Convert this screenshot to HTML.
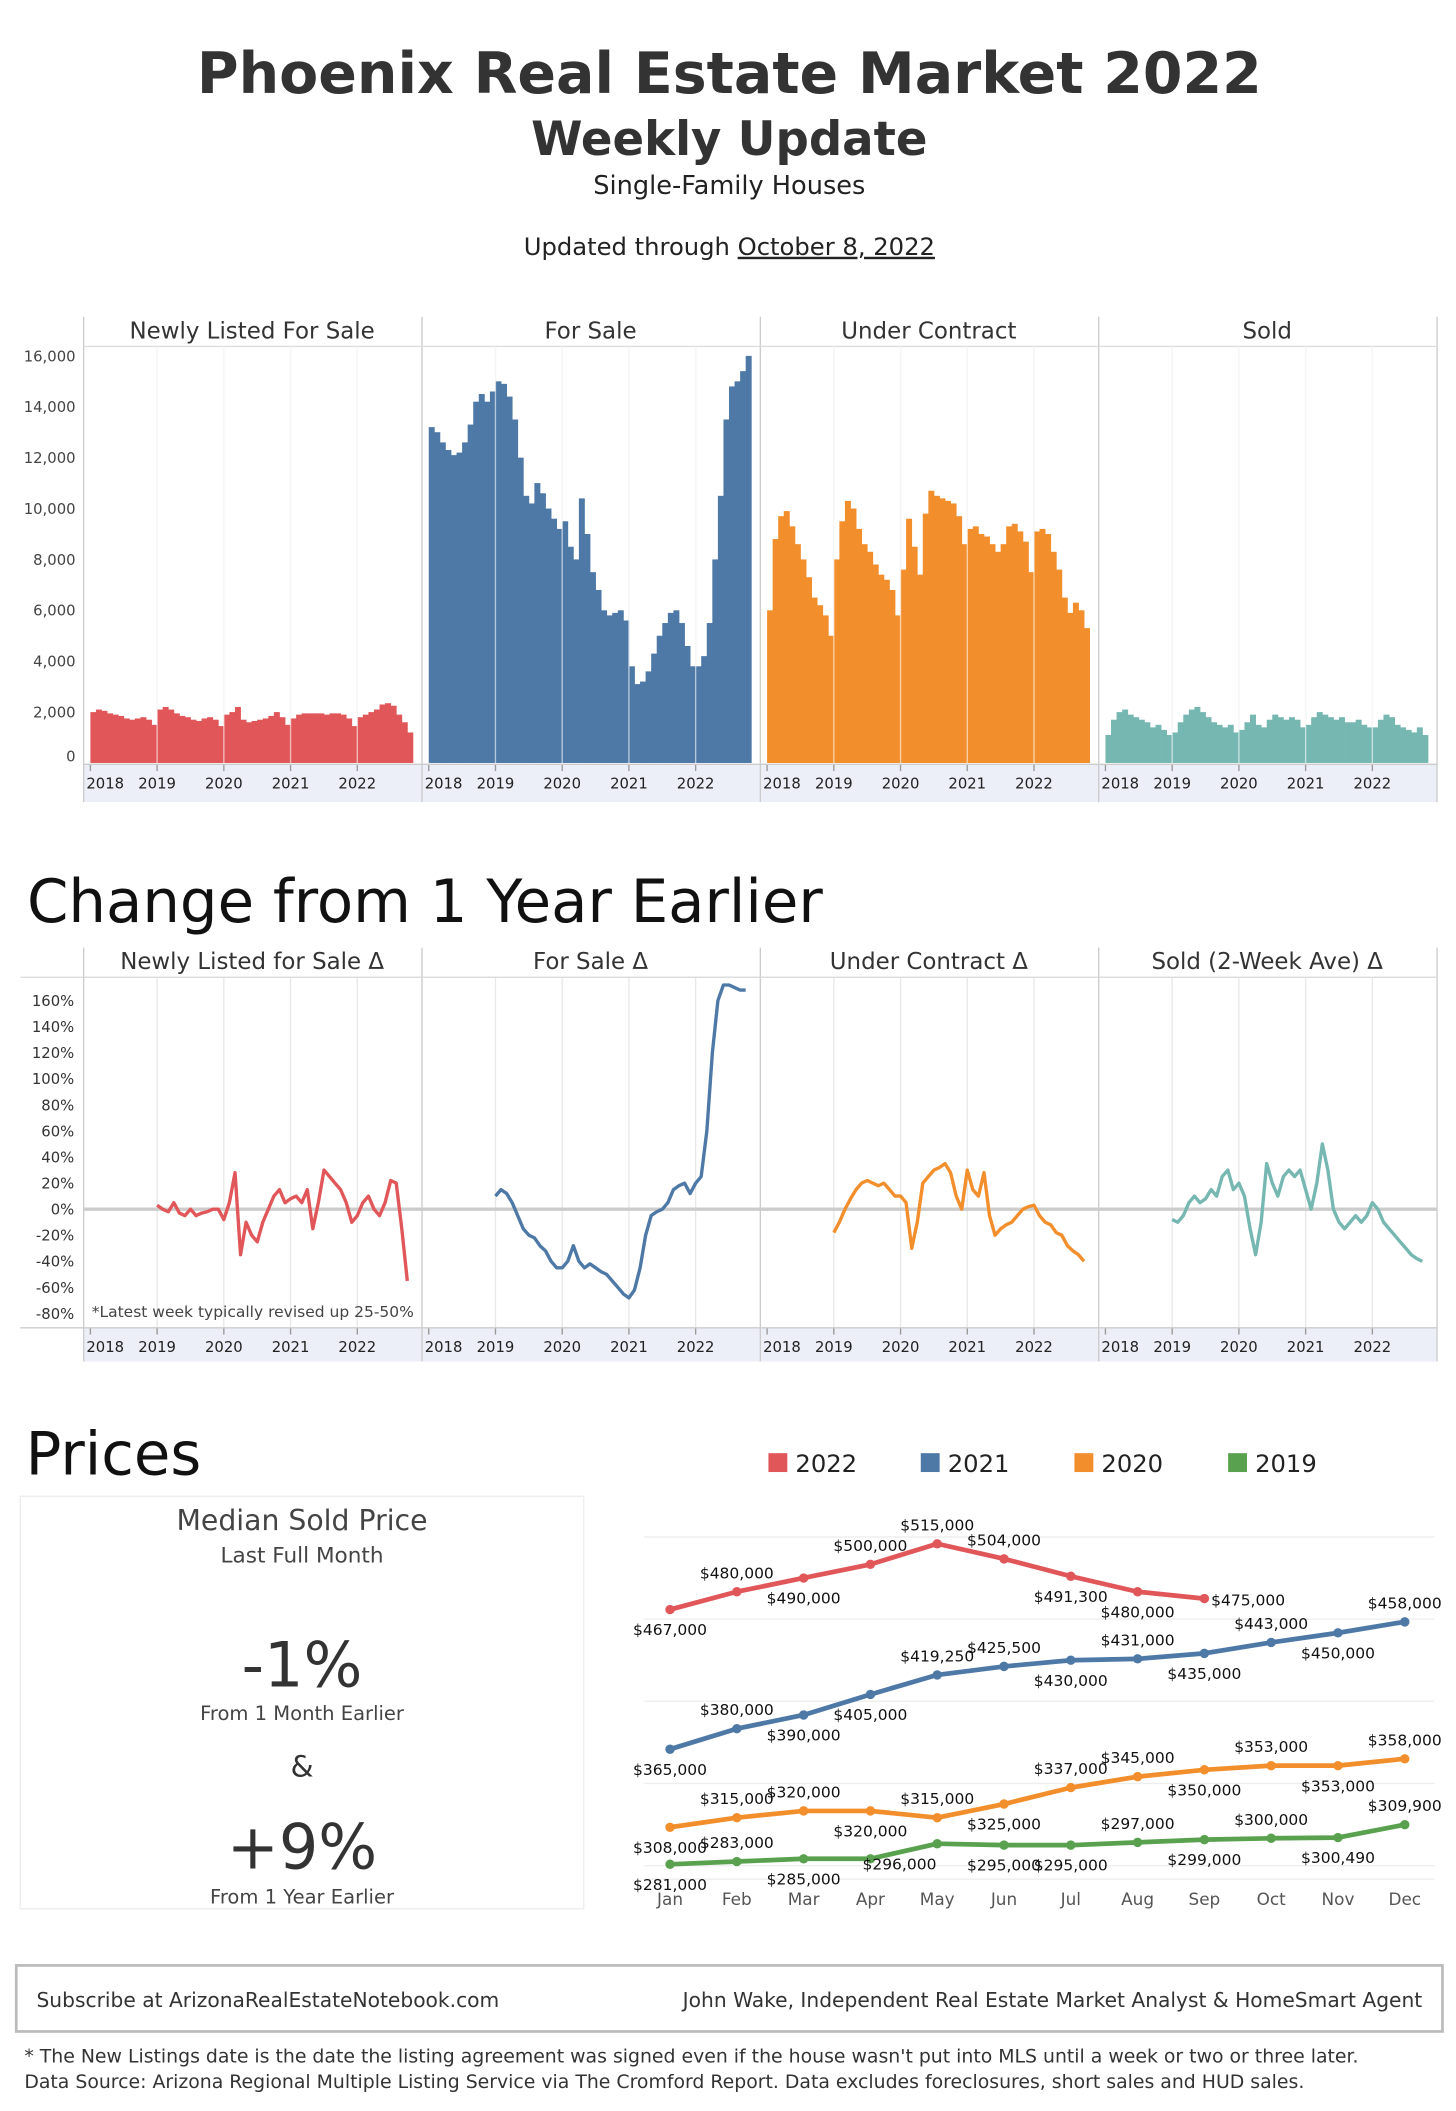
<!DOCTYPE html>
<html><head><meta charset="utf-8">
<style>
html,body{margin:0;padding:0;background:#fff;width:1456px;height:2111px;overflow:hidden}
svg{display:block}
text{font-family:"DejaVu Sans","Liberation Sans",sans-serif}
</style></head>
<body>
<svg id="page" width="1456" height="2111" viewBox="0 0 1080 1566" xmlns="http://www.w3.org/2000/svg">
<g>
<text x="541" y="69" text-anchor="middle" font-size="42" font-weight="bold" fill="#333" textLength="790" lengthAdjust="spacingAndGlyphs">Phoenix Real Estate Market 2022</text>
<text x="541" y="115" text-anchor="middle" font-size="35" font-weight="bold" fill="#333" textLength="294" lengthAdjust="spacingAndGlyphs">Weekly Update</text>
<text x="541" y="144" text-anchor="middle" font-size="19" fill="#222">Single-Family Houses</text>
<text x="541" y="189" text-anchor="middle" font-size="18" fill="#222">Updated through <tspan text-decoration="underline">October 8, 2022</tspan></text>
</g>
<g id="topG"></g>
<text x="20" y="684" font-size="44" fill="#111">Change from 1 Year Earlier</text>
<g id="chg"></g>
<text x="19" y="1094" font-size="44" fill="#111">Prices</text>
<g>
<rect x="15" y="1110" width="418" height="306" fill="none" stroke="#eee"/>
<text x="224" y="1135" text-anchor="middle" font-size="21" fill="#444">Median Sold Price</text>
<text x="224" y="1159" text-anchor="middle" font-size="16" fill="#444">Last Full Month</text>
<text x="224" y="1251" text-anchor="middle" font-size="46" fill="#333">-1%</text>
<text x="224" y="1276" text-anchor="middle" font-size="14.5" fill="#444">From 1 Month Earlier</text>
<text x="224" y="1318" text-anchor="middle" font-size="22" fill="#333">&amp;</text>
<text x="224" y="1386" text-anchor="middle" font-size="46" fill="#333">+9%</text>
<text x="224" y="1412" text-anchor="middle" font-size="14.5" fill="#444">From 1 Year Earlier</text>
</g>
<g id="price"></g>
<g>
<rect x="12" y="1458" width="1058" height="49" fill="none" stroke="#bbb" stroke-width="2"/>
<text x="27" y="1489" font-size="15" fill="#333">Subscribe at ArizonaRealEstateNotebook.com</text>
<text x="1055" y="1489" text-anchor="end" font-size="15" fill="#333">John Wake, Independent Real Estate Market Analyst &amp; HomeSmart Agent</text>
<text x="18" y="1530" font-size="14" fill="#333">* The New Listings date is the date the listing agreement was signed even if the house wasn't put into MLS until a week or two or three later.</text>
<text x="18" y="1549" font-size="14" fill="#333">Data Source: Arizona Regional Multiple Listing Service via The Cromford Report. Data excludes foreclosures, short sales and HUD sales.</text>
</g>
</svg>
<script>
// ---- Inventory data (monthly, Jan 2018 - Oct 2022)
const newListed = [2000,2100,2050,1950,1900,1850,1750,1700,1750,1800,1700,1500, 2100,2200,2100,1950,1850,1800,1700,1650,1750,1800,1700,1450, 1900,2000,2200,1700,1600,1650,1700,1750,1850,2000,1800,1500, 1750,1900,1950,1950,1950,1950,1900,1950,1950,1900,1750,1450, 1800,1900,2000,2100,2300,2350,2250,1900,1600,1200];
const forSale = [13200,13000,12600,12300,12100,12200,12600,13300,14200,14500,14200,14600, 15000,14900,14400,13500,12000,10500,10200,11000,10600,10000,9600,9200, 9500,8500,8000,10400,9000,7500,6800,6000,5800,5900,6000,5600, 3800,3100,3200,3600,4300,5000,5500,5900,6000,5500,4600,3800, 3800,4200,5500,8000,10500,13500,14800,15000,15400,16000];
const underContract = [6000,8800,9700,9900,9300,8600,8000,7300,6500,6200,5800,5000, 8000,9500,10300,10000,9200,8600,8300,7800,7400,7200,6800,5800, 7600,9600,8500,7400,9800,10700,10500,10400,10300,10200,9700,8600, 9200,9300,9000,8900,8600,8300,8600,9300,9400,9100,8700,7500, 9100,9200,9000,8300,7600,6500,5900,6300,6000,5300];
const sold = [1100,1700,2000,2100,1900,1800,1700,1600,1400,1500,1300,1100, 1200,1600,1900,2100,2200,2000,1800,1600,1500,1400,1500,1200, 1300,1600,1900,1500,1400,1700,1900,1800,1700,1800,1700,1400, 1500,1800,2000,1900,1800,1700,1800,1600,1600,1700,1500,1400, 1400,1700,1900,1800,1500,1400,1300,1200,1400,1100];
const invTitles = ["Newly Listed For Sale","For Sale","Under Contract","Sold"];
const invTicks = [0,2000,4000,6000,8000,10000,12000,14000,16000];
const yearLabels = ["2018","2019","2020","2021","2022"];
// ---- Year-over-year change (%), monthly Jan 2019 - Oct 2022
const chgNew = [3,0,-2,5,-3,-5,0,-5,-3,-2,0,0, -8,5,28,-35,-10,-20,-25,-10,0,10,15,5, 8,10,5,15,-15,5,30,25,20,15,5,-10, -5,5,10,0,-5,5,22,20,-15,-55];
const chgForSale = [10,15,12,5,-5,-15,-20,-22,-28,-32,-40,-45, -45,-40,-28,-40,-45,-42,-45,-48,-50,-55,-60,-65, -68,-62,-45,-20,-5,-2,0,5,15,18,20,12, 20,25,60,120,160,172,172,170,168,168];
const chgUnder = [-18,-10,0,8,15,20,22,20,18,20,15,10, 10,5,-30,-10,20,25,30,32,35,28,10,0, 30,15,10,28,-5,-20,-15,-12,-10,-5,0,2, 3,-5,-10,-12,-18,-20,-28,-32,-35,-40];
const chgSold = [-8,-10,-5,5,10,5,8,15,10,25,30,15, 20,10,-15,-35,-10,35,20,10,25,30,25,30, 15,0,20,50,30,0,-10,-15,-10,-5,-10,-5, 5,0,-10,-15,-20,-25,-30,-35,-38,-40];
const chgTitles = ["Newly Listed for Sale \u0394","For Sale \u0394","Under Contract \u0394","Sold (2-Week Ave) \u0394"];
const chgTicks = [160,140,120,100,80,60,40,20,0,-20,-40,-60,-80];
// ---- Prices
const months = ["Jan","Feb","Mar","Apr","May","Jun","Jul","Aug","Sep","Oct","Nov","Dec"];
const priceYears = ["2022","2021","2020","2019"];
const p2022 = [467000,480000,490000,500000,515000,504000,491300,480000,475000];
const p2021 = [365000,380000,390000,405000,419250,425500,430000,431000,435000,443000,450000,458000];
const p2020 = [308000,315000,320000,320000,315000,325000,337000,345000,350000,353000,353000,358000];
const p2019 = [281000,283000,285000,285000,296000,295000,295000,297000,299000,300000,300490,309900];
const priceGrid = [520000,460000,400000,340000,280000];

const NS="http://www.w3.org/2000/svg";
const colors=["#e15759","#4e79a7","#f28e2b","#76b7b2"];
function mk(parent,tag,attrs,txt){const e=document.createElementNS(NS,tag);for(const k in attrs)e.setAttribute(k,attrs[k]);if(txt!==undefined)e.textContent=txt;parent.appendChild(e);return e;}
const fmt=v=>"$"+v.toLocaleString("en-US");

function panelFrame(g,i,hy0,hy1,py1,by1,title){
  const x0=62+251*i;
  const yw=49.5;
  for(let y=1;y<5;y++){const gx=x0+5+y*yw;mk(g,"line",{x1:gx,x2:gx,y1:hy1,y2:py1,stroke:"#e8e8e8"});}
  const band=mk(g,"rect",{x:x0,y:py1,width:251,height:by1-py1,fill:"#eceef8"});
  
  
  yearLabels.forEach((lab,y)=>{const gx=x0+5+y*yw;
    mk(g,"line",{x1:gx,x2:gx,y1:py1,y2:py1+5,stroke:"#999"});
    const t=mk(g,"text",{x:y===0?gx+11:gx,y:py1+18,"text-anchor":"middle","font-size":11,fill:"#222"},lab);
    
    });
  const ht=mk(g,"text",{x:x0+125,y:hy1-6,"text-anchor":"middle","font-size":17,fill:"#333"},title);
  
  
  mk(g,"line",{x1:x0,x2:x0,y1:hy0,y2:by1,stroke:"#ccc"});
  if(i===3)mk(g,"line",{x1:x0+251,x2:x0+251,y1:hy0,y2:by1,stroke:"#ccc"});
  mk(g,"line",{x1:x0,x2:x0+251,y1:hy1,y2:hy1,stroke:"#ddd"});
  return x0;
}
const xm=(x0,k)=>x0+5+k*49.5/12;

// Top inventory
const topG=document.getElementById("topG");
const yInv=v=>566-v/16000*302;
invTicks.forEach(v=>{const t=mk(topG,"text",{x:56,y:yInv(v)+4-(v===0?5:0),"text-anchor":"end","font-size":11,fill:"#444"},v.toLocaleString("en-US"));
  
  });
[newListed,forSale,underContract,sold].forEach((arr,i)=>{
  const g=mk(topG,"g",{});
  
  
  const x0=panelFrame(g,i,235,257,567,595,invTitles[i]);
  arr.forEach((v,k)=>{const r=mk(g,"rect",{x:xm(x0,k),y:yInv(v),width:49.5/12+0.3,height:566-yInv(v),fill:colors[i]});
    
    });
  for(let y=1;y<5;y++){const gx=xm(x0,y*12);mk(g,"line",{x1:gx,x2:gx,y1:257,y2:567,stroke:"#fff","stroke-opacity":0.6});}
  mk(g,"line",{x1:x0,x2:x0+251,y1:567,y2:567,stroke:"#ccc"});
});

// Change
const chg=document.getElementById("chg");
const yChg=v=>897-v*0.967;
chgTicks.forEach(v=>{const t=mk(chg,"text",{x:55,y:yChg(v)+4,"text-anchor":"end","font-size":11,fill:"#333"},v+"%");
  
  });
mk(chg,"line",{x1:15,x2:1066,y1:725,y2:725,stroke:"#ddd"});
[chgNew,chgForSale,chgUnder,chgSold].forEach((arr,i)=>{
  const g=mk(chg,"g",{});
  
  
  const x0=panelFrame(g,i,703,725,985,1010,chgTitles[i]);
  mk(g,"line",{x1:x0,x2:x0+251,y1:yChg(0),y2:yChg(0),stroke:"#ccc","stroke-width":2.5});
  mk(g,"line",{x1:x0,x2:x0+251,y1:985,y2:985,stroke:"#ccc"});
  const pts=arr.map((v,k)=>xm(x0,12+k).toFixed(1)+","+yChg(v).toFixed(1)).join(" ");
  const l=mk(g,"polyline",{points:pts,fill:"none",stroke:colors[i],"stroke-width":2.5,"stroke-linejoin":"round"});
  
  
});
mk(chg,"line",{x1:15,x2:62,y1:985,y2:985,stroke:"#ccc"});
const note=mk(chg,"text",{x:68,y:977,"font-size":11.5,fill:"#444"},"*Latest week typically revised up 25-50%");



// Prices
const pg=document.getElementById("price");
const xP=i=>497+i*49.55;
const yP=v=>1194-(v-467000)*0.001016;
const pColors=["#e15759","#4e79a7","#f28e2b","#59a14f"];
const legX=[570,683,797,911];
priceYears.forEach((yr,i)=>{
  const r=mk(pg,"rect",{x:legX[i],y:1078,width:14,height:14,fill:pColors[i]});
  
  
  const t=mk(pg,"text",{x:legX[i]+20,y:1092,"font-size":18,fill:"#222"},yr);
  
  
});
priceGrid.forEach(v=>mk(pg,"line",{x1:478,x2:1064,y1:yP(v),y2:yP(v),stroke:"#eee"}));
mk(pg,"line",{x1:478,x2:1064,y1:1394,y2:1394,stroke:"#eee"});
months.forEach((m,i)=>{
  const t=mk(pg,"text",{x:xP(i),y:1413,"text-anchor":"middle","font-size":12.5,fill:"#555"},m);
  
  });
const labelPos=[
 ["b","a","b","a","a","a","b","b","r"],
 ["b","a","b","b","a","a","b","a","b","a","b","a"],
 ["b","a","a","b","a","b","a","a","b","a","b","a"],
 ["b","a","b","n","b","b","b","a","b","a","b","a"]];
[p2022,p2021,p2020,p2019].forEach((arr,si)=>{
  const g=mk(pg,"g",{});
  
  
  const pts=arr.map((v,i)=>xP(i).toFixed(1)+","+yP(v).toFixed(1)).join(" ");
  mk(g,"polyline",{points:pts,fill:"none",stroke:pColors[si],"stroke-width":3.5,"stroke-linejoin":"round"});
  arr.forEach((v,i)=>{
    const c=mk(g,"circle",{cx:xP(i),cy:yP(v),r:3.5,fill:pColors[si]});
    
    
    const pos=labelPos[si][i];
    if(pos==="n")return;
    let lx=xP(i),ly=yP(v)-10,anc="middle";
    if(pos==="b")ly=yP(v)+19;
    if(pos==="r"){lx=xP(i)+5;ly=yP(v)+5;anc="start";}
    if(si===3&&i===4){lx=xP(i)-28;}
    const t=mk(g,"text",{x:lx,y:ly,"text-anchor":anc,"font-size":11.5,fill:"#111"},fmt(v));
    
    
  });
});
</script>
</body></html>
